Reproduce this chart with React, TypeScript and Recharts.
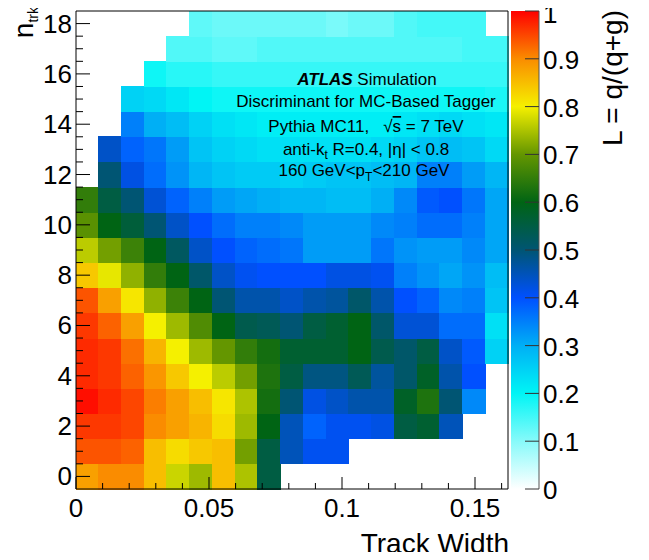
import React from 'react';
import { ComposedChart, XAxis, YAxis, ReferenceArea } from 'recharts';

const FONT = "'Liberation Sans', Arial, Helvetica, sans-serif";

// Track Width bin edges (19 bins)
const trackWidthEdges = [0, 0.00855, 0.0171, 0.02564, 0.03419, 0.04274, 0.05128, 0.05983, 0.06838, 0.07693, 0.08547, 0.09402, 0.10257, 0.11111, 0.11966, 0.12821, 0.13675, 0.1453, 0.15385, 0.1624];
// n_trk bin centres
const nTrkValues = [0, 1, 2, 3, 4, 5, 6, 7, 8, 9, 10, 11, 12, 13, 14, 15, 16, 17, 18];

// L = q/(q+g) per n_trk row (index = n_trk), per track-width bin
const likelihood: (number | null)[][] = [
  [0.88, 0.9, 0.9, 0.85, 0.77, 0.74, 0.85, 0.75, 0.55, null, null, null, null, null, null, null, null, null, null],
  [0.94, 0.94, 0.93, 0.85, 0.82, 0.84, 0.85, 0.71, 0.55, 0.45, 0.41, 0.41, null, null, null, null, null, null, null],
  [0.96, 0.96, 0.95, 0.9, 0.88, 0.86, 0.82, 0.74, 0.6, 0.45, 0.38, 0.41, 0.41, 0.42, 0.55, 0.57, 0.45, null, null],
  [0.99, 0.97, 0.95, 0.91, 0.88, 0.85, 0.81, 0.75, 0.62, 0.5, 0.42, 0.44, 0.46, 0.46, 0.58, 0.63, 0.5, 0.34, null],
  [0.97, 0.96, 0.93, 0.89, 0.84, 0.8, 0.76, 0.71, 0.63, 0.55, 0.49, 0.49, 0.53, 0.47, 0.51, 0.58, 0.46, 0.4, null],
  [0.97, 0.96, 0.92, 0.86, 0.8, 0.74, 0.7, 0.65, 0.62, 0.57, 0.57, 0.57, 0.6, 0.54, 0.51, 0.55, 0.44, 0.39, 0.25],
  [0.96, 0.93, 0.88, 0.8, 0.74, 0.68, 0.6, 0.54, 0.53, 0.5, 0.55, 0.57, 0.6, 0.51, 0.43, 0.43, 0.37, 0.37, 0.23],
  [0.94, 0.88, 0.81, 0.73, 0.66, 0.6, 0.5, 0.46, 0.46, 0.44, 0.46, 0.47, 0.51, 0.46, 0.4, 0.38, 0.34, 0.35, 0.27],
  [0.84, 0.79, 0.73, 0.65, 0.6, 0.51, 0.44, 0.41, 0.4, 0.4, 0.4, 0.42, 0.42, 0.41, 0.35, 0.33, 0.31, 0.33, 0.28],
  [0.76, 0.71, 0.66, 0.6, 0.52, 0.44, 0.4, 0.38, 0.37, 0.36, 0.32, 0.32, 0.32, 0.36, 0.33, 0.32, 0.32, 0.34, 0.31],
  [0.69, 0.6, 0.56, 0.5, 0.44, 0.4, 0.37, 0.35, 0.35, 0.34, 0.32, 0.32, 0.32, 0.34, 0.35, 0.37, 0.37, 0.35, 0.31],
  [0.65, 0.55, 0.5, 0.43, 0.38, 0.35, 0.32, 0.31, 0.3, 0.29, 0.29, 0.28, 0.28, 0.3, 0.34, 0.39, 0.4, 0.36, 0.31],
  [null, 0.5, 0.42, 0.37, 0.33, 0.29, 0.27, 0.26, 0.26, 0.25, 0.26, 0.27, 0.27, 0.28, 0.29, 0.35, 0.35, 0.32, 0.29],
  [null, 0.44, 0.38, 0.36, 0.32, 0.27, 0.25, 0.24, 0.23, 0.23, 0.23, 0.23, 0.23, 0.24, 0.25, 0.27, 0.28, 0.27, 0.24],
  [null, null, 0.35, 0.3, 0.28, 0.25, 0.23, 0.22, 0.21, 0.21, 0.21, 0.21, 0.21, 0.21, 0.22, 0.23, 0.24, 0.23, 0.22],
  [null, null, 0.25, 0.24, 0.22, 0.2, 0.19, 0.19, 0.19, 0.19, 0.19, 0.19, 0.19, 0.19, 0.19, 0.19, 0.19, 0.19, 0.18],
  [null, null, null, 0.19, 0.17, 0.17, 0.16, 0.16, 0.16, 0.16, 0.16, 0.16, 0.16, 0.16, 0.16, 0.16, 0.16, 0.16, 0.16],
  [null, null, null, null, 0.14, 0.14, 0.13, 0.13, 0.14, 0.14, 0.14, 0.14, 0.14, 0.14, 0.14, 0.14, 0.14, 0.15, 0.15],
  [null, null, null, null, null, 0.13, 0.12, 0.12, 0.12, 0.12, 0.12, 0.11, 0.12, 0.12, 0.14, 0.15, 0.15, 0.15, null],
];

const xMajorTicks = [0, 0.05, 0.1, 0.15];
const xTickLabels = ['0', '0.05', '0.1', '0.15'];
const xAllTicks = [0, 0.01, 0.02, 0.03, 0.04, 0.05, 0.06, 0.07, 0.08, 0.09, 0.1, 0.11, 0.12, 0.13, 0.14, 0.15, 0.16];
const yMajorTicks = [0, 2, 4, 6, 8, 10, 12, 14, 16, 18];
const yTickLabels = ['0', '2', '4', '6', '8', '10', '12', '14', '16', '18'];
const yAllTicks = [0, 0.5, 1, 1.5, 2, 2.5, 3, 3.5, 4, 4.5, 5, 5.5, 6, 6.5, 7, 7.5, 8, 8.5, 9, 9.5, 10, 10.5, 11, 11.5, 12, 12.5, 13, 13.5, 14, 14.5, 15, 15.5, 16, 16.5, 17, 17.5, 18];
const colorbarTicks = [0, 0.1, 0.2, 0.3, 0.4, 0.5, 0.6, 0.7, 0.8, 0.9, 1];
const colorbarLabels = ['0', '0.1', '0.2', '0.3', '0.4', '0.5', '0.6', '0.7', '0.8', '0.9', '1'];

const paletteStops = [0, 0.1, 0.2, 0.3, 0.4, 0.5, 0.6, 0.7, 0.8, 0.9, 1];
const paletteColors: [number, number, number][] = [
  [255, 255, 255], [135, 250, 250], [0, 245, 245], [0, 175, 245], [0, 80, 255],
  [0, 85, 115], [0, 100, 20], [100, 150, 0], [245, 240, 0], [250, 140, 0], [255, 0, 0],
];

const X_DOMAIN: [number, number] = [0, 0.1624];
const Y_DOMAIN: [number, number] = [-0.5, 18.5];
const PLOT_TOP = 11;
const PLOT_BOTTOM = 489;

function colorFor(v: number): string {
  for (let k = 0; k < paletteStops.length - 1; k++) {
    const a = paletteStops[k], b = paletteStops[k + 1];
    if (v <= b || k === paletteStops.length - 2) {
      const t = Math.max(0, Math.min(1, (v - a) / (b - a)));
      const c0 = paletteColors[k], c1 = paletteColors[k + 1];
      const c = c0.map((c, i) => Math.round(c + (c1[i] - c) * t));
      return `rgb(${c[0]},${c[1]},${c[2]})`;
    }
  }
  return '#fff';
}

const idxOf = (arr: number[], v: number) => arr.findIndex((m) => Math.abs(m - v) < 1e-6);

const XTickBottom = (props: any) => {
  const { x, y, payload } = props;
  const i = idxOf(xMajorTicks, payload.value);
  return (
    <g>
      <line x1={x} x2={x} y1={y} y2={y - (i >= 0 ? 12 : 6)} stroke="#000" strokeWidth={1} />
      {i >= 0 && (
        <text x={x} y={y + 28} textAnchor="middle" fontSize={26} fontFamily={FONT} fill="#000">{xTickLabels[i]}</text>
      )}
    </g>
  );
};
const XTickTop = (props: any) => {
  const { x, y, payload } = props;
  const i = idxOf(xMajorTicks, payload.value);
  return <line x1={x} x2={x} y1={y} y2={y + (i >= 0 ? 12 : 6)} stroke="#000" strokeWidth={1} />;
};
const YTickLeft = (props: any) => {
  const { x, y, payload } = props;
  const i = idxOf(yMajorTicks, payload.value);
  return (
    <g>
      <line x1={x} x2={x + (i >= 0 ? 14 : 7)} y1={y} y2={y} stroke="#000" strokeWidth={1} />
      {i >= 0 && (
        <text x={x - 4} y={y + 9} textAnchor="end" fontSize={26} fontFamily={FONT} fill="#000">{yTickLabels[i]}</text>
      )}
    </g>
  );
};
const YTickRight = (props: any) => {
  const { x, y, payload } = props;
  const i = idxOf(yMajorTicks, payload.value);
  return <line x1={x} x2={x - (i >= 0 ? 14 : 7)} y1={y} y2={y} stroke="#000" strokeWidth={1} />;
};

const CellShape = (props: any) => {
  const { x, y, width, height, fill } = props;
  if (![x, y, width, height].every((n) => Number.isFinite(n))) return null;
  const x0 = Math.min(x, x + width), y0 = Math.min(y, y + height);
  return <rect x={x0 - 0.5} y={y0 - 0.5} width={Math.abs(width) + 1} height={Math.abs(height) + 1} fill={fill} stroke="none" shapeRendering="crispEdges" />;
};

export default function App() {
  const cells: { x1: number; x2: number; y1: number; y2: number; v: number; key: string }[] = [];
  likelihood.forEach((row, j) =>
    row.forEach((v, i) => {
      if (v !== null) {
        cells.push({ x1: trackWidthEdges[i], x2: trackWidthEdges[i + 1], y1: nTrkValues[j] - 0.5, y2: nTrkValues[j] + 0.5, v, key: `${i}-${j}` });
      }
    })
  );
  const data = cells.map((c) => ({ xc: (c.x1 + c.x2) / 2, yc: (c.y1 + c.y2) / 2 }));
  const cbH = PLOT_BOTTOM - PLOT_TOP;

  return (
    <div style={{ position: 'relative', width: 649, height: 560, margin: -8, background: '#fff' }}>
      <ComposedChart width={649} height={560} data={data} margin={{ top: 11, right: 141, bottom: 0, left: 0 }}>
        <XAxis xAxisId="b" dataKey="xc" type="number" orientation="bottom" domain={X_DOMAIN} allowDataOverflow ticks={xAllTicks} interval={0}
          tick={(p: any) => <XTickBottom {...p} />} tickLine={false} axisLine={false} tickSize={0} tickMargin={0} height={71} />
        <XAxis xAxisId="t" dataKey="xc" type="number" orientation="top" domain={X_DOMAIN} allowDataOverflow ticks={xAllTicks} interval={0}
          tick={(p: any) => <XTickTop {...p} />} tickLine={false} axisLine={false} tickSize={0} tickMargin={0} height={0} />
        <YAxis yAxisId="l" dataKey="yc" type="number" orientation="left" domain={Y_DOMAIN} allowDataOverflow ticks={yAllTicks} interval={0}
          tick={(p: any) => <YTickLeft {...p} />} tickLine={false} axisLine={false} tickSize={0} tickMargin={0} width={76} />
        <YAxis yAxisId="r" dataKey="yc" type="number" orientation="right" domain={Y_DOMAIN} allowDataOverflow ticks={yAllTicks} interval={0}
          tick={(p: any) => <YTickRight {...p} />} tickLine={false} axisLine={false} tickSize={0} tickMargin={0} width={0} />
        {cells.map((c) => (
          <ReferenceArea key={c.key} xAxisId="b" yAxisId="l" x1={c.x1} x2={c.x2} y1={c.y1} y2={c.y2}
            fill={colorFor(c.v)} fillOpacity={1} ifOverflow="visible" shape={(p: any) => <CellShape {...p} />} />
        ))}
        <ReferenceArea xAxisId="b" yAxisId="l" x1={X_DOMAIN[0]} x2={X_DOMAIN[1]} y1={Y_DOMAIN[0]} y2={Y_DOMAIN[1]}
          fill="none" fillOpacity={0} stroke="#000" strokeWidth={1} strokeOpacity={1} ifOverflow="visible" />
      </ComposedChart>
      <svg width={649} height={560} style={{ position: 'absolute', left: 0, top: 0, pointerEvents: 'none', overflow: 'visible' }} fontFamily={FONT}>
        <defs>
          <linearGradient id="cbGrad" x1="0" y1="1" x2="0" y2="0">
            {paletteStops.map((s, k) => (
              <stop key={k} offset={s} stopColor={`rgb(${paletteColors[k].join(',')})`} />
            ))}
          </linearGradient>
        </defs>
        <rect x={511} y={PLOT_TOP} width={28} height={cbH} fill="url(#cbGrad)" />
        <line x1={539} x2={539} y1={PLOT_TOP} y2={PLOT_BOTTOM} stroke="#555" strokeWidth={1} />
        {colorbarTicks.map((t, k) => {
          const y = PLOT_BOTTOM - t * cbH;
          return (
            <g key={k}>
              <line x1={539} x2={525} y1={y} y2={y} stroke="#333" strokeWidth={1} />
              <text x={543} y={y + (k === colorbarTicks.length - 1 ? 12 : 10)} fontSize={26} fill="#000">{colorbarLabels[k]}</text>
            </g>
          );
        })}
        <text transform="translate(622,10) rotate(-90)" textAnchor="end" fontSize={28} fill="#000">L = q/(q+g)</text>
        <text transform="translate(33,7) rotate(-90)" textAnchor="end" fontSize={28} fill="#000">
          n<tspan fontSize={14} dy={5}>trk</tspan>
        </text>
        <text x={509} y={553} textAnchor="end" fontSize={28} fill="#000">Track Width</text>
        <g fontSize={17} fill="#000" textAnchor="middle">
          <text x={367} y={85}><tspan fontWeight="bold" fontStyle="italic">ATLAS</tspan> Simulation</text>
          <text x={366} y={107}>Discriminant for MC-Based Tagger</text>
          <text x={366} y={132}>{'Pythia MC11,\u00a0\u00a0 \u221A'}<tspan style={{ textDecoration: 'overline' }}>s</tspan> = 7 TeV</text>
          <text x={366} y={155}>anti-k<tspan fontSize={12} dy={4}>t</tspan><tspan dy={-4}> R=0.4, |η| &lt; 0.8</tspan></text>
          <text x={364} y={176}>160 GeV&lt;p<tspan fontSize={12} dy={5}>T</tspan><tspan dy={-5}>&lt;210 GeV</tspan></text>
        </g>
      </svg>
    </div>
  );
}
